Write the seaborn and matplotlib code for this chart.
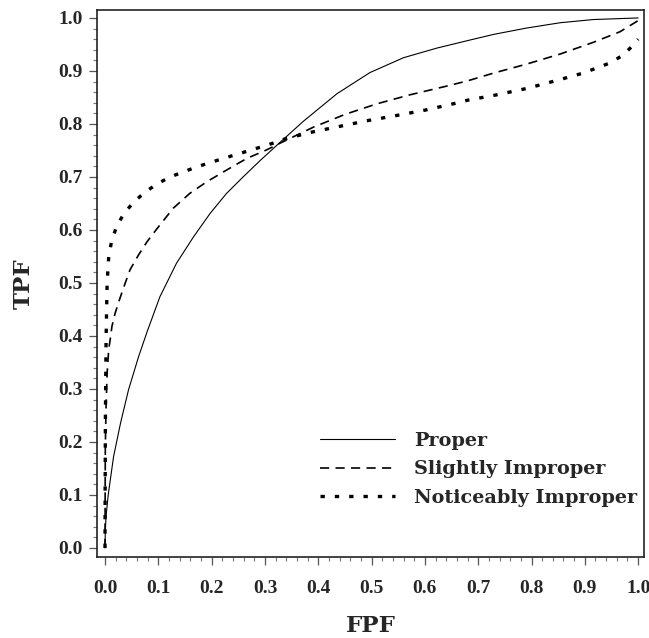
import matplotlib
matplotlib.use("Agg")
import matplotlib.pyplot as plt
from matplotlib.ticker import MultipleLocator, FormatStrFormatter
import seaborn as sns
import pandas as pd

# ---- data ----
proper_fpf = [0.0, 0.0005, 0.002, 0.006, 0.016, 0.029, 0.044, 0.063, 0.079, 0.103, 0.134,
              0.166, 0.197, 0.228, 0.259, 0.291, 0.328, 0.372, 0.435, 0.497, 0.56, 0.622,
              0.679, 0.729, 0.791, 0.854, 0.916, 1.0]
proper_tpf = [0.0, 0.03, 0.06, 0.10, 0.172, 0.235, 0.298, 0.361, 0.408, 0.474, 0.537,
              0.587, 0.631, 0.669, 0.70, 0.731, 0.765, 0.805, 0.857, 0.897, 0.925, 0.943,
              0.957, 0.969, 0.981, 0.991, 0.997, 1.0]

slight_fpf = [0.0, 0.0003, 0.0006, 0.002, 0.004, 0.007, 0.01, 0.013, 0.019, 0.029, 0.038,
              0.047, 0.063, 0.079, 0.098, 0.113, 0.128, 0.159, 0.191, 0.228, 0.266, 0.303,
              0.335, 0.391, 0.45, 0.51, 0.572, 0.635, 0.679, 0.729, 0.791, 0.854, 0.916,
              0.966, 1.0]
slight_tpf = [0.0, 0.10, 0.19, 0.267, 0.33, 0.375, 0.395, 0.418, 0.443, 0.474, 0.50,
              0.525, 0.553, 0.578, 0.603, 0.622, 0.641, 0.669, 0.691, 0.713, 0.735, 0.751,
              0.767, 0.794, 0.818, 0.838, 0.855, 0.870, 0.881, 0.896, 0.913, 0.932, 0.954,
              0.974, 0.995]

notice_fpf = [0.0, 0.0003, 0.0008, 0.0015, 0.002, 0.003, 0.004, 0.007, 0.013, 0.0225, 0.035,
              0.054, 0.076, 0.098, 0.122, 0.172, 0.222, 0.278, 0.316, 0.335, 0.385, 0.438,
              0.491, 0.547, 0.60, 0.653, 0.681, 0.735, 0.791, 0.847, 0.897, 0.947, 0.972,
              0.991, 1.0]
notice_tpf = [0.0, 0.12, 0.25, 0.33, 0.39, 0.45, 0.50, 0.55, 0.582, 0.608, 0.630,
              0.653, 0.672, 0.687, 0.700, 0.719, 0.735, 0.752, 0.764, 0.771, 0.784, 0.795,
              0.806, 0.816, 0.826, 0.838, 0.845, 0.855, 0.867, 0.882, 0.896, 0.915, 0.930,
              0.949, 0.96]

labels = ["Proper", "Slightly Improper", "Noticeably Improper"]
x_ticks = [0.0, 0.1, 0.2, 0.3, 0.4, 0.5, 0.6, 0.7, 0.8, 0.9, 1.0]
y_ticks = [0.0, 0.1, 0.2, 0.3, 0.4, 0.5, 0.6, 0.7, 0.8, 0.9, 1.0]

df_p = pd.DataFrame({"FPF": proper_fpf, "TPF": proper_tpf})
df_s = pd.DataFrame({"FPF": slight_fpf, "TPF": slight_tpf})
df_n = pd.DataFrame({"FPF": notice_fpf, "TPF": notice_tpf})

sns.set_style("ticks")
plt.rcParams["font.family"] = ["DejaVu Serif"]
plt.rcParams["font.weight"] = "bold"

fig = plt.figure(figsize=(6.49, 6.38), dpi=100)
ax = fig.add_axes([97 / 649, 1 - 557 / 638, (644 - 97) / 649, (557 - 10) / 638])

sns.lineplot(data=df_p, x="FPF", y="TPF", ax=ax, color="black", lw=0.8,
             sort=False, estimator=None, label=labels[0])
sns.lineplot(data=df_s, x="FPF", y="TPF", ax=ax, color="black", lw=1.2,
             linestyle=(0, (5.5, 3.8)), sort=False, estimator=None, label=labels[1])
sns.lineplot(data=df_n, x="FPF", y="TPF", ax=ax, color="black", lw=2.4,
             linestyle=(0, (1.3, 3.0)), sort=False, estimator=None, label=labels[2])

ax.set_xlim(-0.015, 1.011)
ax.set_ylim(-0.017, 1.015)
ax.set_xticks(x_ticks)
ax.set_yticks(y_ticks)
ax.xaxis.set_major_formatter(FormatStrFormatter("%.1f"))
ax.yaxis.set_major_formatter(FormatStrFormatter("%.1f"))
ax.xaxis.set_minor_locator(MultipleLocator(0.02))
ax.yaxis.set_minor_locator(MultipleLocator(0.02))
ax.tick_params(which="major", length=5.5, width=0.9, color="#555555")
ax.tick_params(which="minor", length=3, width=0.8, color="#777777")
ax.tick_params(axis="x", which="major", pad=11)
ax.tick_params(axis="y", which="major", pad=5)
for lab in ax.get_xticklabels() + ax.get_yticklabels():
    lab.set_fontfamily("Liberation Serif")
    lab.set_fontweight("bold")
    lab.set_fontsize(14)
for sp in ax.spines.values():
    sp.set_visible(True)
    sp.set_linewidth(1.2)
    sp.set_color("#222222")

ax.set_xlabel("FPF", fontsize=16.5, fontweight="bold", labelpad=13)
ax.set_ylabel("TPF", fontsize=16.5, fontweight="bold", labelpad=17)

leg = ax.legend(loc="upper left", bbox_to_anchor=(0.408, 0.229), frameon=False,
                fontsize=13.9, handlelength=3.9, handletextpad=0.95, labelspacing=0.55,
                borderpad=0, borderaxespad=0)
for t in leg.get_texts():
    t.set_fontweight("bold")

fig.savefig("out.png", dpi=100)
